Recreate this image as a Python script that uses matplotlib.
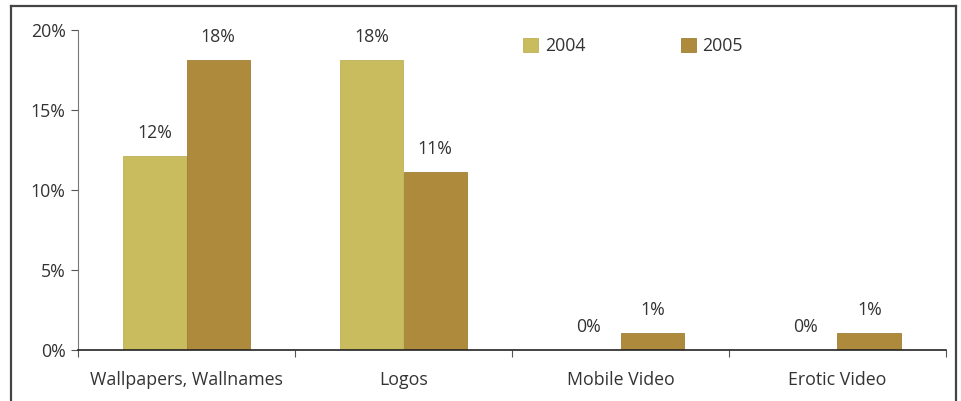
import numpy as np
import matplotlib.pyplot as plt
from matplotlib.lines import Line2D

plt.rcParams['font.family'] = ['Open Sans', 'DejaVu Sans']

categories = ['Wallpapers, Wallnames', 'Logos', 'Mobile Video', 'Erotic Video']
vals_2004 = [12.1, 18.1, 0.0, 0.0]
vals_2005 = [18.1, 11.1, 1.05, 1.05]
labels_2004 = ['12%', '18%', '0%', '0%']
labels_2005 = ['18%', '11%', '1%', '1%']

c2004 = '#C9BC5E'
c2005 = '#AD8A3C'
txt = '#333333'
fs = 12.8

fig = plt.figure(figsize=(9.62, 4.01), dpi=100)
ax = fig.add_axes([78/962, 1 - 350/401, (946 - 78)/962, (350 - 30)/401])

x = np.arange(len(categories))
w = 0.293
ax.bar(x - w/2, vals_2004, w, color=c2004, edgecolor='#BFB055', linewidth=0.6, label='2004')
ax.bar(x + w/2, vals_2005, w, color=c2005, edgecolor='#A07F33', linewidth=0.6, label='2005')

for xi, v, t in zip(x, vals_2004, labels_2004):
    ax.text(xi - w/2, v + 0.9, t, ha='center', va='bottom', fontsize=fs, color=txt)
for xi, v, t in zip(x, vals_2005, labels_2005):
    ax.text(xi + w/2, v + 0.9, t, ha='center', va='bottom', fontsize=fs, color=txt)

ax.set_xlim(-0.5, len(categories) - 0.5)
ax.set_ylim(0, 20)
ax.set_yticks([0, 5, 10, 15, 20])
ax.set_yticklabels(['0%', '5%', '10%', '15%', '20%'], fontsize=fs, color=txt)
ax.set_xticks(x)
ax.set_xticklabels(categories, fontsize=fs, color=txt)
ax.set_xticks(np.arange(-0.5, len(categories)), minor=True)
ax.tick_params(axis='x', which='major', length=0, pad=15)
ax.tick_params(axis='x', which='minor', length=5, width=0.8, color='#555555', direction='out')
ax.tick_params(axis='y', length=5, width=0.8, color='#555555', pad=4)

for s in ['top', 'right']:
    ax.spines[s].set_visible(False)
ax.spines['left'].set_color('#777777')
ax.spines['left'].set_linewidth(0.8)
ax.spines['bottom'].set_color('#222222')
ax.spines['bottom'].set_linewidth(1.2)

leg = ax.legend(loc='upper left', bbox_to_anchor=(0.505, 1.0), ncol=2, frameon=False,
                fontsize=fs, handlelength=0.8, handleheight=0.8, handletextpad=0.4,
                columnspacing=5.4, borderaxespad=0.0)
for t in leg.get_texts():
    t.set_color(txt)

# outer frame (open at the bottom)
frame = '#444444'
fig.add_artist(Line2D([11/962, 11/962], [0, 1 - 6/401], color=frame, lw=1.6))
fig.add_artist(Line2D([11/962, 956/962], [1 - 6/401, 1 - 6/401], color=frame, lw=1.6))
fig.add_artist(Line2D([956/962, 956/962], [0, 1 - 6/401], color=frame, lw=1.6))

fig.savefig('out.png', dpi=100)
